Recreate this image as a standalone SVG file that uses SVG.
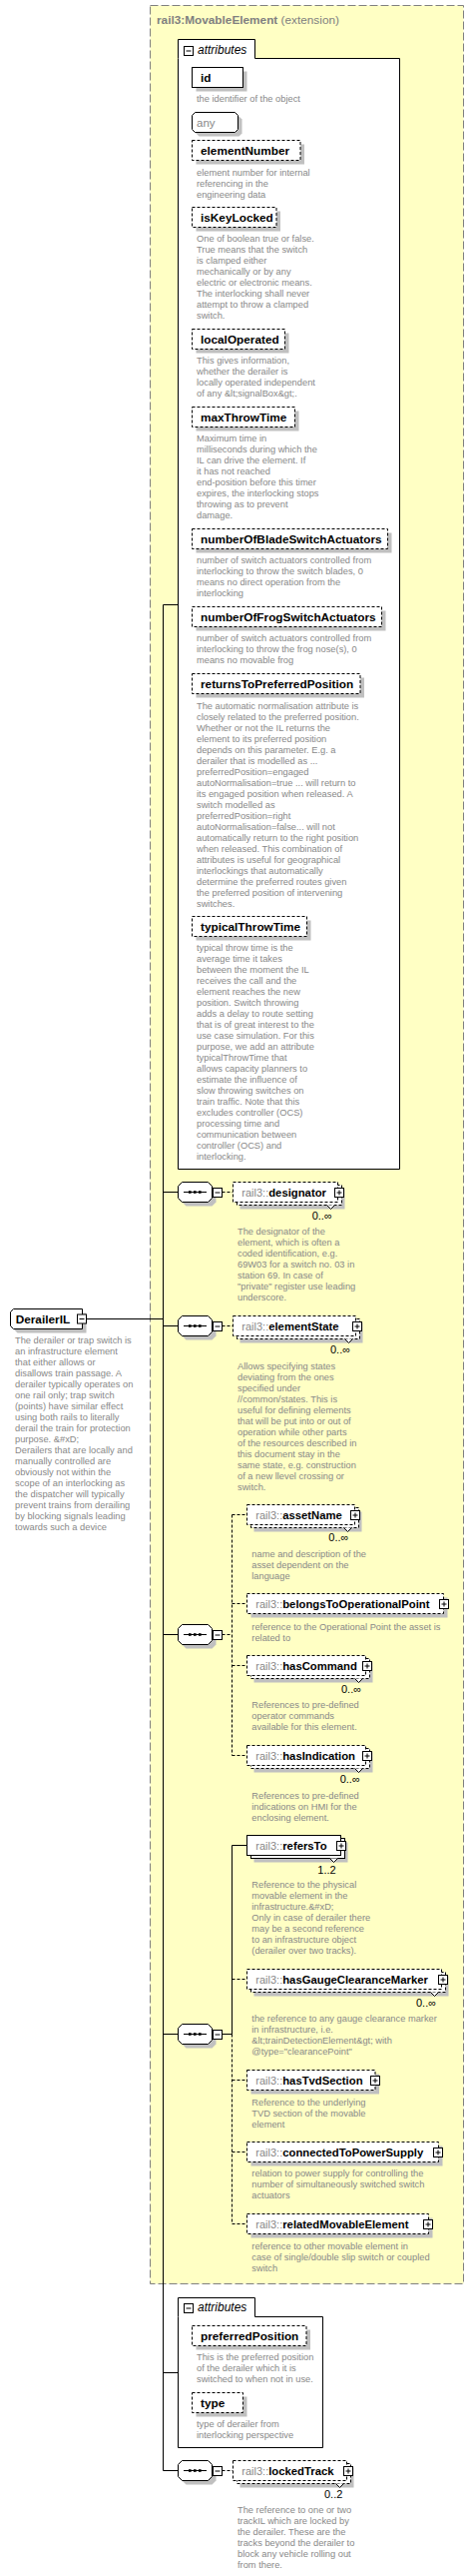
<svg xmlns="http://www.w3.org/2000/svg" xmlns:xlink="http://www.w3.org/1999/xlink" width="475" height="2579" viewBox="0 0 475 2579">
<style>
.t{font-family:"Liberation Sans",Arial,sans-serif}
.d{font-size:9.3px;fill:#888}
.b{font-size:11.8px;font-weight:bold;fill:#000}
.e{font-size:11.3px;font-weight:bold;fill:#000}
.p{font-size:11px;fill:#888;font-weight:normal}
.o{font-size:11px;fill:#000}
.i{font-size:12px;font-style:italic;fill:#000}
.bx{fill:#fff;stroke:#000;stroke-width:1}
.ds{stroke-dasharray:3,2}
.sh{fill:#c0c0c0;stroke:none}
.ln{stroke:#000;stroke-width:1;fill:none}
.dl{stroke:#000;stroke-width:1;fill:none;stroke-dasharray:3,2}
</style>
<defs>
<g id="minus"><rect class="bx" x="0.5" y="0.5" width="9" height="9"/><path class="ln" d="M2.5,5H7.5"/></g>
<g id="plus"><rect class="bx" x="0.5" y="0.5" width="9" height="9"/><path class="ln" d="M2.5,5H7.5M5,2.5V7.5"/></g>
<g id="seq">
<polygon class="sh" points="186.5,-5.5 212.5,-5.5 216.5,-1.5 216.5,10.5 212.5,14.5 186.5,14.5 182.5,10.5 182.5,-1.5"/>
<polygon class="bx" points="182.5,-9.5 208.5,-9.5 212.5,-5.5 212.5,6.5 208.5,10.5 182.5,10.5 178.5,6.5 178.5,-5.5"/>
<path class="ln" d="M184,0.5H207"/>
<rect x="189" y="-0.8" width="2.6" height="2.6" fill="#000"/><rect x="194" y="-0.8" width="2.6" height="2.6" fill="#000"/><rect x="199" y="-0.8" width="2.6" height="2.6" fill="#000"/>
<use xlink:href="#minus" x="213" y="-4"/>
</g>
</defs>

<rect id="extension" x="150.5" y="5.5" width="314" height="2281" fill="#ffffc4" stroke="#808080" stroke-dasharray="8,3"/>
<text class="t" x="157" y="23.5" font-size="11.8px" fill="#808080"><tspan font-weight="bold">rail3:MovableElement</tspan> (extension)</text>

<g id="connectors">
<path class="ln" d="M87,1320.5H163.5M163.5,605.5V2473.5M163.5,605.5H178.5M163.5,1193.5H178.5M163.5,1327.5H178.5M163.5,1636.5H178.5M163.5,2036.5H178.5M163.5,2375.5H178.5M163.5,2473.5H178.5"/>
<path class="dl" d="M222.5,1193.5H233.5M222.5,1327.5H233.5M222.5,2473.5H233.5"/>
<path class="dl" d="M222.5,1636.5H232.5M232.5,1516.5V1757.5M232.5,1516.5H247.5M232.5,1605.5H247.5M232.5,1667.5H247.5M232.5,1757.5H247.5"/>
<path class="ln" d="M222.5,2036.5H232.5M232.5,1847.5V2036.5M232.5,1847.5H247.5"/>
<path class="dl" d="M232.5,2036.5V2226.5M232.5,1981.5H247.5M232.5,2082.5H247.5M232.5,2154.5H247.5M232.5,2226.5H247.5"/>
</g>

<g id="attributes1">
<path class="bx" d="M178.5,58.5V39.5H255.5V58.5H400.5V1170.5H178.5Z"/>
<use xlink:href="#minus" x="184" y="46"/>
<text class="t i" x="198" y="53.5">attributes</text>
</g>

<g id="attr-id">
<rect class="sh" x="196.5" y="71.5" width="51" height="20"/>
<rect class="bx" x="192.5" y="67.5" width="51" height="20"/>
<text class="t b" x="201" y="81.5">id</text>
<text class="t d" x="197" y="102">the identifier of the object</text>
</g>
<g id="attr-any">
<polygon class="sh" points="199.5,116.5 239.5,116.5 242.5,119.5 242.5,133.5 239.5,136.5 199.5,136.5 196.5,133.5 196.5,119.5"/>
<polygon class="bx" points="195.5,112.5 235.5,112.5 238.5,115.5 238.5,129.5 235.5,132.5 195.5,132.5 192.5,129.5 192.5,115.5"/>
<text class="t" x="197" y="127" font-size="11.5px" fill="#888">any</text>
</g>
<g id="attr-elementNumber">
<rect class="sh" x="196.5" y="144.5" width="108.5" height="20"/>
<rect class="bx ds" x="192.5" y="140.5" width="108.5" height="20"/>
<text class="t b" x="201" y="155">elementNumber</text>
<text class="t d" x="197" y="175.7"><tspan x="197">element number for internal</tspan><tspan x="197" dy="11">referencing in the</tspan><tspan x="197" dy="11">engineering data</tspan></text>
</g>
<g id="attr-isKeyLocked">
<rect class="sh" x="196.5" y="211.5" width="84.5" height="20"/>
<rect class="bx ds" x="192.5" y="207.5" width="84.5" height="20"/>
<text class="t b" x="201" y="221.7">isKeyLocked</text>
<text class="t d" x="197" y="242.3"><tspan x="197">One of boolean true or false.</tspan><tspan x="197" dy="11">True means that the switch</tspan><tspan x="197" dy="11">is clamped either</tspan><tspan x="197" dy="11">mechanically or by any</tspan><tspan x="197" dy="11">electric or electronic means.</tspan><tspan x="197" dy="11">The interlocking shall never</tspan><tspan x="197" dy="11">attempt to throw a clamped</tspan><tspan x="197" dy="11">switch.</tspan></text>
</g>
<g id="attr-localOperated">
<rect class="sh" x="196.5" y="333.5" width="93" height="20"/>
<rect class="bx ds" x="192.5" y="329.5" width="93" height="20"/>
<text class="t b" x="201" y="343.6">localOperated</text>
<text class="t d" x="197" y="364.3"><tspan x="197">This gives information,</tspan><tspan x="197" dy="11">whether the derailer is</tspan><tspan x="197" dy="11">locally operated independent</tspan><tspan x="197" dy="11">of any &amp;lt;signalBox&amp;gt;.</tspan></text>
</g>
<g id="attr-maxThrowTime">
<rect class="sh" x="196.5" y="411.5" width="103" height="20"/>
<rect class="bx ds" x="192.5" y="407.5" width="103" height="20"/>
<text class="t b" x="201" y="421.7">maxThrowTime</text>
<text class="t d" x="197" y="442.3"><tspan x="197">Maximum time in</tspan><tspan x="197" dy="11">milliseconds during which the</tspan><tspan x="197" dy="11">IL can drive the element. If</tspan><tspan x="197" dy="11">it has not reached</tspan><tspan x="197" dy="11">end-position before this timer</tspan><tspan x="197" dy="11">expires, the interlocking stops</tspan><tspan x="197" dy="11">throwing as to prevent</tspan><tspan x="197" dy="11">damage.</tspan></text>
</g>
<g id="attr-numberOfBladeSwitchActuators">
<rect class="sh" x="196.5" y="533.5" width="196" height="20"/>
<rect class="bx ds" x="192.5" y="529.5" width="196" height="20"/>
<text class="t b" x="201" y="543.6">numberOfBladeSwitchActuators</text>
<text class="t d" x="197" y="564.3"><tspan x="197">number of switch actuators controlled from</tspan><tspan x="197" dy="11">interlocking to throw the switch blades, 0</tspan><tspan x="197" dy="11">means no direct operation from the</tspan><tspan x="197" dy="11">interlocking</tspan></text>
</g>
<g id="attr-numberOfFrogSwitchActuators">
<rect class="sh" x="196.5" y="611.5" width="190" height="20"/>
<rect class="bx ds" x="192.5" y="607.5" width="190" height="20"/>
<text class="t b" x="201" y="621.7">numberOfFrogSwitchActuators</text>
<text class="t d" x="197" y="642.3"><tspan x="197">number of switch actuators controlled from</tspan><tspan x="197" dy="11">interlocking to throw the frog nose(s), 0</tspan><tspan x="197" dy="11">means no movable frog</tspan></text>
</g>
<g id="attr-returnsToPreferredPosition">
<rect class="sh" x="196.5" y="678.5" width="168.5" height="20"/>
<rect class="bx ds" x="192.5" y="674.5" width="168.5" height="20"/>
<text class="t b" x="201" y="688.6">returnsToPreferredPosition</text>
<text class="t d" x="197" y="709.7"><tspan x="197">The automatic normalisation attribute is</tspan><tspan x="197" dy="11">closely related to the preferred position.</tspan><tspan x="197" dy="11">Whether or not the IL returns the</tspan><tspan x="197" dy="11">element to its preferred position</tspan><tspan x="197" dy="11">depends on this parameter. E.g. a</tspan><tspan x="197" dy="11">derailer that is modelled as ...</tspan><tspan x="197" dy="11">preferredPosition=engaged</tspan><tspan x="197" dy="11">autoNormalisation=true ... will return to</tspan><tspan x="197" dy="11">its engaged position when released. A</tspan><tspan x="197" dy="11">switch modelled as</tspan><tspan x="197" dy="11">preferredPosition=right</tspan><tspan x="197" dy="11">autoNormalisation=false... will not</tspan><tspan x="197" dy="11">automatically return to the right position</tspan><tspan x="197" dy="11">when released. This combination of</tspan><tspan x="197" dy="11">attributes is useful for geographical</tspan><tspan x="197" dy="11">interlockings that automatically</tspan><tspan x="197" dy="11">determine the preferred routes given</tspan><tspan x="197" dy="11">the preferred position of intervening</tspan><tspan x="197" dy="11">switches.</tspan></text>
</g>
<g id="attr-typicalThrowTime">
<rect class="sh" x="196.5" y="921.5" width="115" height="20"/>
<rect class="bx ds" x="192.5" y="917.5" width="115" height="20"/>
<text class="t b" x="201" y="931.7">typicalThrowTime</text>
<text class="t d" x="197" y="952.3"><tspan x="197">typical throw time is the</tspan><tspan x="197" dy="11">average time it takes</tspan><tspan x="197" dy="11">between the moment the IL</tspan><tspan x="197" dy="11">receives the call and the</tspan><tspan x="197" dy="11">element reaches the new</tspan><tspan x="197" dy="11">position. Switch throwing</tspan><tspan x="197" dy="11">adds a delay to route setting</tspan><tspan x="197" dy="11">that is of great interest to the</tspan><tspan x="197" dy="11">use case simulation. For this</tspan><tspan x="197" dy="11">purpose, we add an attribute</tspan><tspan x="197" dy="11">typicalThrowTime that</tspan><tspan x="197" dy="11">allows capacity planners to</tspan><tspan x="197" dy="11">estimate the influence of</tspan><tspan x="197" dy="11">slow throwing switches on</tspan><tspan x="197" dy="11">train traffic. Note that this</tspan><tspan x="197" dy="11">excludes controller (OCS)</tspan><tspan x="197" dy="11">processing time and</tspan><tspan x="197" dy="11">communication between</tspan><tspan x="197" dy="11">controller (OCS) and</tspan><tspan x="197" dy="11">interlocking.</tspan></text>
</g>

<g id="DerailerIL">
<polygon class="sh" points="17.5,1314.5 86.5,1314.5 86.5,1334.5 17.5,1334.5 14.5,1331.5 14.5,1317.5"/>
<polygon class="bx" points="13.5,1310.5 82.5,1310.5 82.5,1330.5 13.5,1330.5 10.5,1327.5 10.5,1313.5"/>
<text class="t b" x="15.7" y="1324.7">DerailerIL</text>
<use xlink:href="#minus" x="77" y="1315.5"/>
<text class="t d" x="15" y="1345.3"><tspan x="15">The derailer or trap switch is</tspan><tspan x="15" dy="11">an infrastructure element</tspan><tspan x="15" dy="11">that either allows or</tspan><tspan x="15" dy="11">disallows train passage. A</tspan><tspan x="15" dy="11">derailer typically operates on</tspan><tspan x="15" dy="11">one rail only; trap switch</tspan><tspan x="15" dy="11">(points) have similar effect</tspan><tspan x="15" dy="11">using both rails to literally</tspan><tspan x="15" dy="11">derail the train for protection</tspan><tspan x="15" dy="11">purpose. &amp;#xD;</tspan><tspan x="15" dy="11">Derailers that are locally and</tspan><tspan x="15" dy="11">manually controlled are</tspan><tspan x="15" dy="11">obviously not within the</tspan><tspan x="15" dy="11">scope of an interlocking as</tspan><tspan x="15" dy="11">the dispatcher will typically</tspan><tspan x="15" dy="11">prevent trains from derailing</tspan><tspan x="15" dy="11">by blocking signals leading</tspan><tspan x="15" dy="11">towards such a device</tspan></text>
</g>

<g id="seq-designator"><use xlink:href="#seq" y="1193"/></g>
<g id="designator">
<rect class="sh" x="240.5" y="1190.5" width="105" height="20"/>
<rect class="bx ds" x="237.5" y="1186.5" width="105" height="20"/>
<rect class="bx ds" x="233.5" y="1183.5" width="105" height="20"/>
<path class="bx" d="M327.5,1206.5L331.5,1210.5L335.5,1206.5"/>
<text class="t" x="242.3" y="1197.7"><tspan class="p">rail3::</tspan><tspan class="e">designator</tspan></text>
<use xlink:href="#plus" x="335" y="1189"/>
<text class="t o" x="312.7" y="1221">0..∞</text>
<text class="t d" x="238" y="1236.3"><tspan x="238">The designator of the</tspan><tspan x="238" dy="11">element, which is often a</tspan><tspan x="238" dy="11">coded identification, e.g.</tspan><tspan x="238" dy="11">69W03 for a switch no. 03 in</tspan><tspan x="238" dy="11">station 69. In case of</tspan><tspan x="238" dy="11">"private" register use leading</tspan><tspan x="238" dy="11">underscore.</tspan></text>
</g>

<g id="seq-elementState"><use xlink:href="#seq" y="1327"/></g>
<g id="elementState">
<rect class="sh" x="240.5" y="1324.5" width="123" height="20"/>
<rect class="bx ds" x="237.5" y="1320.5" width="123" height="20"/>
<rect class="bx ds" x="233.5" y="1317.5" width="123" height="20"/>
<path class="bx" d="M345.5,1340.5L349.5,1344.5L353.5,1340.5"/>
<text class="t" x="242.3" y="1331.7"><tspan class="p">rail3::</tspan><tspan class="e">elementState</tspan></text>
<use xlink:href="#plus" x="353" y="1323"/>
<text class="t o" x="331" y="1355">0..∞</text>
<text class="t d" x="238" y="1370.7"><tspan x="238">Allows specifying states</tspan><tspan x="238" dy="11">deviating from the ones</tspan><tspan x="238" dy="11">specified under</tspan><tspan x="238" dy="11">//common/states. This is</tspan><tspan x="238" dy="11">useful for defining elements</tspan><tspan x="238" dy="11">that will be put into or out of</tspan><tspan x="238" dy="11">operation while other parts</tspan><tspan x="238" dy="11">of the resources described in</tspan><tspan x="238" dy="11">this document stay in the</tspan><tspan x="238" dy="11">same state, e.g. construction</tspan><tspan x="238" dy="11">of a new llevel crossing or</tspan><tspan x="238" dy="11">switch.</tspan></text>
</g>

<g id="seq-asset"><use xlink:href="#seq" y="1636"/></g>
<g id="assetName">
<rect class="sh" x="254.5" y="1513.5" width="108" height="20"/>
<rect class="bx ds" x="251.5" y="1509.5" width="108" height="20"/>
<rect class="bx ds" x="247.5" y="1506.5" width="108" height="20"/>
<path class="bx" d="M344.5,1529.5L348.5,1533.5L352.5,1529.5"/>
<text class="t" x="256.3" y="1520.7"><tspan class="p">rail3::</tspan><tspan class="e">assetName</tspan></text>
<use xlink:href="#plus" x="351" y="1512"/>
<text class="t o" x="329.3" y="1543.3">0..∞</text>
<text class="t d" x="252.3" y="1559.3"><tspan x="252.3">name and description of the</tspan><tspan x="252.3" dy="11">asset dependent on the</tspan><tspan x="252.3" dy="11">language</tspan></text>
</g>
<g id="belongsToOperationalPoint">
<rect class="sh" x="251.5" y="1599.5" width="197" height="20"/>
<rect class="bx ds" x="247.5" y="1595.5" width="197" height="20"/>
<text class="t" x="256.3" y="1609.8"><tspan class="p">rail3::</tspan><tspan class="e">belongsToOperationalPoint</tspan></text>
<use xlink:href="#plus" x="440" y="1601"/>
<text class="t d" x="252.3" y="1631.7"><tspan x="252.3">reference to the Operational Point the asset is</tspan><tspan x="252.3" dy="11">related to</tspan></text>
</g>
<g id="hasCommand">
<rect class="sh" x="254.5" y="1664.5" width="119" height="20"/>
<rect class="bx ds" x="251.5" y="1660.5" width="119" height="20"/>
<rect class="bx ds" x="247.5" y="1657.5" width="119" height="20"/>
<path class="bx" d="M355.5,1680.5L359.5,1684.5L363.5,1680.5"/>
<text class="t" x="256.3" y="1671.7"><tspan class="p">rail3::</tspan><tspan class="e">hasCommand</tspan></text>
<use xlink:href="#plus" x="363" y="1663"/>
<text class="t o" x="342" y="1695">0..∞</text>
<text class="t d" x="252.3" y="1710"><tspan x="252.3">References to pre-defined</tspan><tspan x="252.3" dy="11">operator commands</tspan><tspan x="252.3" dy="11">available for this element.</tspan></text>
</g>
<g id="hasIndication">
<rect class="sh" x="254.5" y="1754.5" width="119" height="20"/>
<rect class="bx ds" x="251.5" y="1750.5" width="119" height="20"/>
<rect class="bx ds" x="247.5" y="1747.5" width="119" height="20"/>
<path class="bx" d="M355.5,1770.5L359.5,1774.5L363.5,1770.5"/>
<text class="t" x="256.3" y="1761.7"><tspan class="p">rail3::</tspan><tspan class="e">hasIndication</tspan></text>
<use xlink:href="#plus" x="363" y="1753"/>
<text class="t o" x="340.7" y="1785">0..∞</text>
<text class="t d" x="252.3" y="1800.7"><tspan x="252.3">References to pre-defined</tspan><tspan x="252.3" dy="11">indications on HMI for the</tspan><tspan x="252.3" dy="11">enclosing element.</tspan></text>
</g>

<g id="seq-refers"><use xlink:href="#seq" y="2036"/></g>
<g id="refersTo">
<rect class="sh" x="254.5" y="1844.5" width="94" height="20"/>
<rect class="bx" x="251.5" y="1840.5" width="94" height="20"/>
<rect class="bx" x="247.5" y="1837.5" width="94" height="20"/>
<path class="bx" d="M330.5,1860.5L334.5,1864.5L338.5,1860.5"/>
<text class="t" x="256.3" y="1851.7"><tspan class="p">rail3::</tspan><tspan class="e">refersTo</tspan></text>
<use xlink:href="#plus" x="337" y="1843"/>
<text class="t o" x="318.3" y="1875.7">1..2</text>
<text class="t d" x="252.3" y="1890"><tspan x="252.3">Reference to the physical</tspan><tspan x="252.3" dy="11">movable element in the</tspan><tspan x="252.3" dy="11">infrastructure.&amp;#xD;</tspan><tspan x="252.3" dy="11">Only in case of derailer there</tspan><tspan x="252.3" dy="11">may be a second reference</tspan><tspan x="252.3" dy="11">to an infrastructure object</tspan><tspan x="252.3" dy="11">(derailer over two tracks).</tspan></text>
</g>
<g id="hasGaugeClearanceMarker">
<rect class="sh" x="254.5" y="1978.5" width="195" height="20"/>
<rect class="bx ds" x="251.5" y="1974.5" width="195" height="20"/>
<rect class="bx ds" x="247.5" y="1971.5" width="195" height="20"/>
<path class="bx" d="M431.5,1994.5L435.5,1998.5L439.5,1994.5"/>
<text class="t" x="256.3" y="1985.7"><tspan class="p">rail3::</tspan><tspan class="e">hasGaugeClearanceMarker</tspan></text>
<use xlink:href="#plus" x="439" y="1977"/>
<text class="t o" x="417" y="2009">0..∞</text>
<text class="t d" x="252.3" y="2024.3"><tspan x="252.3">the reference to any gauge clearance marker</tspan><tspan x="252.3" dy="11">in infrastructure, i.e.</tspan><tspan x="252.3" dy="11">&amp;lt;trainDetectionElement&amp;gt; with</tspan><tspan x="252.3" dy="11">@type="clearancePoint"</tspan></text>
</g>
<g id="hasTvdSection">
<rect class="sh" x="251.5" y="2076.5" width="128.5" height="20"/>
<rect class="bx ds" x="247.5" y="2072.5" width="128.5" height="20"/>
<text class="t" x="256.3" y="2086.7"><tspan class="p">rail3::</tspan><tspan class="e">hasTvdSection</tspan></text>
<use xlink:href="#plus" x="371" y="2078"/>
<text class="t d" x="252.3" y="2107.7"><tspan x="252.3">Reference to the underlying</tspan><tspan x="252.3" dy="11">TVD section of the movable</tspan><tspan x="252.3" dy="11">element</tspan></text>
</g>
<g id="connectedToPowerSupply">
<rect class="sh" x="251.5" y="2148.5" width="192" height="20"/>
<rect class="bx ds" x="247.5" y="2144.5" width="192" height="20"/>
<text class="t" x="256.3" y="2158.8"><tspan class="p">rail3::</tspan><tspan class="e">connectedToPowerSupply</tspan></text>
<use xlink:href="#plus" x="434" y="2150"/>
<text class="t d" x="252.3" y="2179.3"><tspan x="252.3">relation to power supply for controlling the</tspan><tspan x="252.3" dy="11">number of simultaneously switched switch</tspan><tspan x="252.3" dy="11">actuators</tspan></text>
</g>
<g id="relatedMovableElement">
<rect class="sh" x="251.5" y="2220.5" width="182" height="20"/>
<rect class="bx ds" x="247.5" y="2216.5" width="182" height="20"/>
<text class="t" x="256.3" y="2230.8"><tspan class="p">rail3::</tspan><tspan class="e">relatedMovableElement</tspan></text>
<use xlink:href="#plus" x="424" y="2222"/>
<text class="t d" x="252.3" y="2251.7"><tspan x="252.3">reference to other movable element in</tspan><tspan x="252.3" dy="11">case of single/double slip switch or coupled</tspan><tspan x="252.3" dy="11">switch</tspan></text>
</g>

<g id="attributes2">
<path class="bx" d="M178.5,2319.5V2300.5H255.5V2319.5H323.5V2450.5H178.5Z"/>
<use xlink:href="#minus" x="184" y="2306"/>
<text class="t i" x="198" y="2314.3">attributes</text>
</g>
<g id="attr-preferredPosition">
<rect class="sh" x="196.5" y="2332.5" width="114.5" height="20"/>
<rect class="bx ds" x="192.5" y="2328.5" width="114.5" height="20"/>
<text class="t b" x="201" y="2342.7">preferredPosition</text>
<text class="t d" x="197" y="2363.3"><tspan x="197">This is the preferred position</tspan><tspan x="197" dy="11">of the derailer which it is</tspan><tspan x="197" dy="11">switched to when not in use.</tspan></text>
</g>
<g id="attr-type">
<rect class="sh" x="196.5" y="2399.5" width="51" height="20"/>
<rect class="bx ds" x="192.5" y="2395.5" width="51" height="20"/>
<text class="t b" x="201" y="2410">type</text>
<text class="t d" x="197" y="2430.3"><tspan x="197">type of derailer from</tspan><tspan x="197" dy="11">interlocking perspective</tspan></text>
</g>

<g id="seq-lockedTrack"><use xlink:href="#seq" y="2473"/></g>
<g id="lockedTrack">
<rect class="sh" x="240.5" y="2470.5" width="114" height="20"/>
<rect class="bx ds" x="237.5" y="2466.5" width="114" height="20"/>
<rect class="bx ds" x="233.5" y="2463.5" width="114" height="20"/>
<path class="bx" d="M336.5,2486.5L340.5,2490.5L344.5,2486.5"/>
<text class="t" x="242.3" y="2478.2"><tspan class="p">rail3::</tspan><tspan class="e">lockedTrack</tspan></text>
<use xlink:href="#plus" x="344" y="2469"/>
<text class="t o" x="325" y="2501">0..2</text>
<text class="t d" x="238" y="2516"><tspan x="238">The reference to one or two</tspan><tspan x="238" dy="11">trackIL which are locked by</tspan><tspan x="238" dy="11">the derailer. These are the</tspan><tspan x="238" dy="11">tracks beyond the derailer to</tspan><tspan x="238" dy="11">block any vehicle rolling out</tspan><tspan x="238" dy="11">from there.</tspan></text>
</g>
</svg>
